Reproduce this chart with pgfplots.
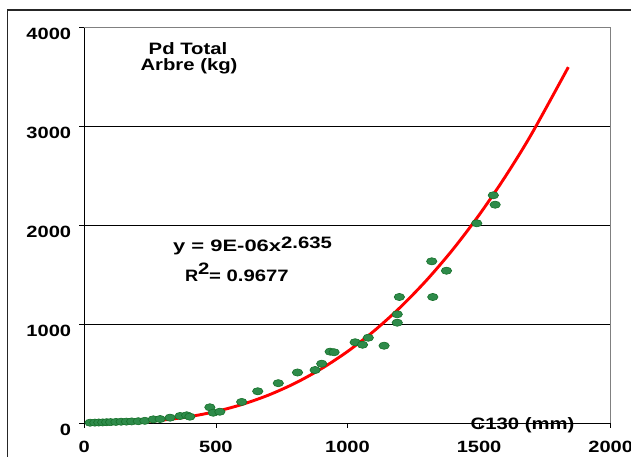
\documentclass[border=0pt]{standalone}
\usepackage{pgfplots}
\pgfplotsset{compat=1.18}
\usepackage{fontspec}
\setmainfont{Liberation Sans}
\usepackage{graphicx}
\newcommand{\W}[1]{\scalebox{1.23}[1]{#1}}
\definecolor{ptgreen}{RGB}{46,139,74}
\definecolor{ptedge}{RGB}{22,112,42}
\pgfplotstableread{
x y
22 3
40 4
55 5
70 6
85 8
100 9
120 11
140 13
160 14
180 16
205 18
230 22
262 37
288 40
326 54
364 71
389 78
401 64
477 159
490 104
515 114
598 213
659 321
737 403
810 511
877 536
902 600
934 722
949 716
1029 817
1057 792
1079 863
1139 782
1189 1015
1189 1100
1197 1275
1320 1636
1324 1275
1376 1541
1491 2021
1554 2304
1561 2209
}\pointdata
\pgfplotstableread{
x y
20 0.02
100 1.7
200 10.4
300 30.3
400 64.7
500 116.4
600 188.2
700 282.5
800 401.7
900 547.9
1000 723.2
1100 929.7
1200 1169.3
1300 1443.7
1400 1754.9
1500 2105.0
1600 2495.4
1700 2927.6
1839 3601
}\fitdata
\begin{document}
\begin{tikzpicture}
\useasboundingbox (0pt,0pt) rectangle (631pt,457pt);
\draw[line width=1.1pt, black!85] (7.3pt,-30pt) -- (7.3pt,447pt) -- (700pt,447pt);
\begin{axis}[
  at={(84.3pt,34pt)}, anchor=south west,
  scale only axis, width=526.4pt, height=395.3pt,
  xmin=0, xmax=2000, ymin=0, ymax=4000,
  axis x line*=bottom, axis y line*=left,
  axis line style={black, line width=0.8pt},
  xtick={0,500,1000,1500,2000}, ytick={0,1000,2000,3000,4000},
  tick align=outside, major tick length=5pt,
  tick style={black, line width=0.8pt},
  scaled ticks=false,
  clip=false,
  /pgf/number format/1000 sep={},
  /pgf/number format/assume math mode=true,
  ticklabel style={font=\fontsize{16.3}{18}\selectfont\bfseries, inner sep=0pt},
  xticklabel={\W{\pgfmathprintnumber{\tick}}},
  yticklabel={\W{\pgfmathprintnumber{\tick}}},
  xticklabel style={anchor=north, yshift=-13pt},
  yticklabel style={anchor=east, xshift=-8pt, yshift=-6.5pt},
  extra y ticks={1000,2000,3000},
  extra y tick labels={},
  extra y tick style={grid=major, major tick length=0pt},
  grid style={black, line width=0.8pt},
]
\addplot[only marks, mark=*, mark size=3.6pt,
  mark options={xscale=1.45, fill=ptgreen, draw=ptedge, line width=0.6pt}]
  table[x=x,y=y] {\pointdata};
\addplot[red, line width=2.9pt, smooth] table[x=x,y=y] {\fitdata};
\draw[black!50, line width=0.8pt] (axis cs:0,4000) -- (axis cs:2000,4000) -- (axis cs:2000,0);
\end{axis}
\begin{scope}[every node/.style={inner sep=0pt, font=\fontsize{16.5}{18}\selectfont\bfseries}]
\node[anchor=base] at (188pt,402pt) {\W{Pd Total}};
\node[anchor=base] at (189pt,386.3pt) {\W{Arbre (kg)}};
\node[anchor=base] at (522.5pt,27.7pt) {\W{C130 (mm)}};
\node[anchor=base west] at (173pt,205.3pt) {\scalebox{1.33}[1]{y = 9E-06x}};
\node[anchor=base west] at (281pt,208.7pt) {\W{2.635}};
\node[anchor=base west] at (185pt,175.3pt) {\scalebox{1.1}[1]{R}};
\node[anchor=base west] at (198pt,182pt) {\W{2}};
\node[anchor=base west] at (209pt,175.3pt) {\W{= 0.9677}};
\end{scope}
\end{tikzpicture}
\end{document}
